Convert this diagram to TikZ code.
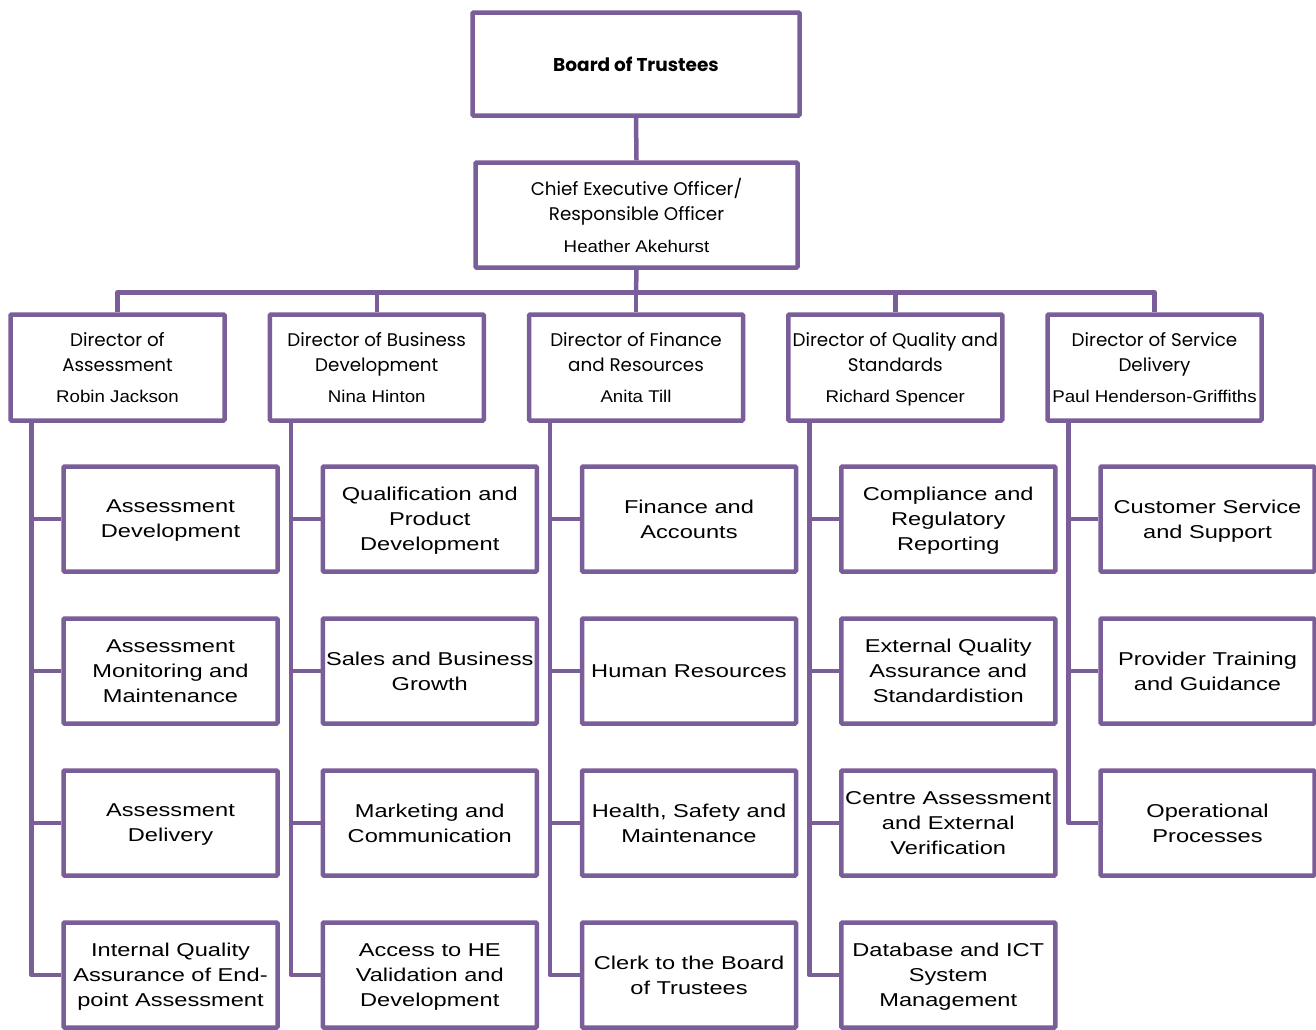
\documentclass[tikz,border=0pt]{standalone}
\usepackage{fontspec}
\setmainfont{Poppins}
\newfontfamily\namefont[FakeStretch=1.1]{Liberation Sans}
\newfontfamily\childfont[FakeStretch=1.27]{Liberation Sans}
\definecolor{orgpurple}{RGB}{122,94,154}
\begin{document}
\begin{tikzpicture}[x=1pt,y=-1pt,
  box/.style={draw=orgpurple, line width=4.5pt, rounded corners=1pt, fill=white, inner sep=0pt, align=center, text depth=0pt},
  topbox/.style={box, minimum width=327pt, minimum height=103pt},
  ceobox/.style={box, minimum width=322pt, minimum height=105pt, font=\fontsize{18.3}{25.4}\selectfont},
  dirbox/.style={box, minimum width=214pt, minimum height=106pt, font=\fontsize{18.3}{25.4}\selectfont},
  childbox/.style={box, minimum width=214pt, minimum height=105pt, text depth=-7pt, font=\childfont\fontsize{18.6}{25}\selectfont},
  link/.style={draw=orgpurple, line width=4.5pt, line join=round}]
\useasboundingbox (0,0) rectangle (1316,1029);
\newcommand{\pname}[1]{{\namefont\fontsize{17}{25.4}\selectfont #1}}

\node[topbox] (board) at (636,64) {\fontsize{18.5}{22}\selectfont\bfseries Board of Trustees};
\node[ceobox] (ceo) at (636.5,215) {Chief Executive Officer/\\Responsible Officer\\[6pt]\pname{Heather Akehurst}};
\coordinate (bus) at (636,292.5);

\node[dirbox] (d1) at (117.5,367.5) {Director of\\Assessment\\[5.4pt]\pname{Robin Jackson}};
\node[dirbox] (d2) at (376.75,367.5) {Director of Business\\Development\\[5.4pt]\pname{Nina Hinton}};
\node[dirbox] (d3) at (636,367.5) {Director of Finance\\and Resources\\[5.4pt]\pname{Anita Till}};
\node[dirbox] (d4) at (895.25,367.5) {Director of Quality and\\Standards\\[5.4pt]\pname{Richard Spencer}};
\node[dirbox] (d5) at (1154.5,367.5) {Director of Service\\Delivery\\[5.4pt]\pname{Paul Henderson-Griffiths}};

% children
\node[childbox] (c11) at (170.5,519) {Assessment\\Development};
\node[childbox] (c12) at (170.5,671) {Assessment\\Monitoring and\\Maintenance};
\node[childbox] (c13) at (170.5,823) {Assessment\\Delivery};
\node[childbox] (c14) at (170.5,975) {Internal Quality\\Assurance of End-\\point Assessment};

\node[childbox] (c21) at (429.75,519) {Qualification and\\Product\\Development};
\node[childbox] (c22) at (429.75,671) {Sales and Business\\Growth};
\node[childbox] (c23) at (429.75,823) {Marketing and\\Communication};
\node[childbox] (c24) at (429.75,975) {Access to HE\\Validation and\\Development};

\node[childbox] (c31) at (689,519) {Finance and\\Accounts};
\node[childbox] (c32) at (689,671) {Human Resources};
\node[childbox] (c33) at (689,823) {Health, Safety and\\Maintenance};
\node[childbox] (c34) at (689,975) {Clerk to the Board\\of Trustees};

\node[childbox] (c41) at (948.25,519) {Compliance and\\Regulatory\\Reporting};
\node[childbox] (c42) at (948.25,671) {External Quality\\Assurance and\\Standardistion};
\node[childbox] (c43) at (948.25,823) {Centre Assessment\\and External\\Verification};
\node[childbox] (c44) at (948.25,975) {Database and ICT\\System\\Management};

\node[childbox] (c51) at (1207.5,519) {Customer Service\\and Support};
\node[childbox] (c52) at (1207.5,671) {Provider Training\\and Guidance};
\node[childbox] (c53) at (1207.5,823) {Operational\\Processes};

% connectors
\path[link] (board.south) -- (ceo.north);
\path[link] (ceo.south) -- (bus);
\foreach \i in {1,...,5} {
  \path[link] (bus) -| (d\i.north);
  \coordinate (s\i) at ([xshift=-86pt]d\i.south);
}
\foreach \i in {1,...,4} {
  \foreach \j in {1,...,4} {
    \path[link] (s\i) |- (c\i\j.west);
  }
}
\foreach \j in {1,...,3} {
  \path[link] (s5) |- (c5\j.west);
}
\end{tikzpicture}
\end{document}
